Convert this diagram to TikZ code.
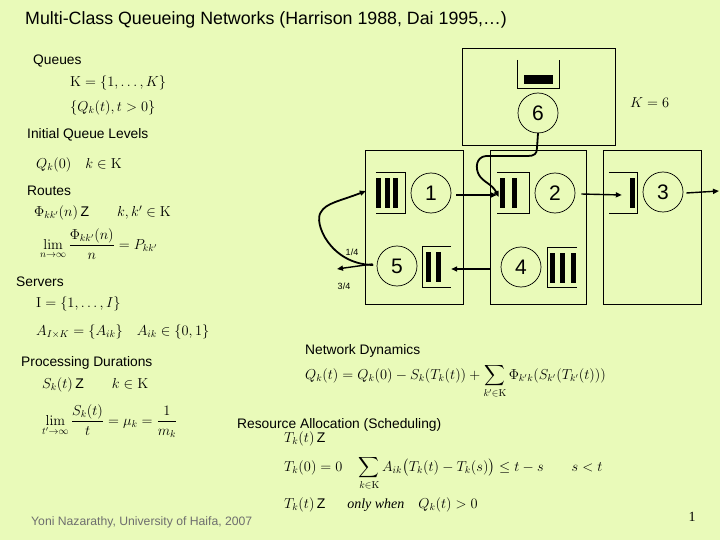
\documentclass[tikz,border=0pt]{standalone}
\usepackage{amsmath}
\usepackage[no-math]{fontspec}
\setmainfont{Liberation Sans}
\newfontfamily\serifont{Liberation Serif}
\usetikzlibrary{arrows.meta}
\definecolor{bgc}{RGB}{233,250,185}
\definecolor{footc}{RGB}{110,110,110}
\begin{document}
\begin{tikzpicture}[x=1pt,y=-1pt,
  lbl/.style={anchor=west,inner sep=0pt,font=\fontsize{13.8}{16}\selectfont},
  eq/.style={anchor=west,inner sep=0pt,font=\fontsize{14}{17}\selectfont},
  srv/.style={circle,draw,line width=0.7pt,minimum size=40pt,inner sep=0pt,font=\fontsize{21}{24}\selectfont},
  stn/.style={draw,line width=0.8pt,inner sep=0pt},
  buf/.style={inner sep=0pt,minimum height=40pt},
  bufline/.style={line width=0.8pt},
  flow/.style={-{Triangle[length=6pt,width=5pt]},line width=1.4pt},
  cflow/.style={-{Triangle[length=6pt,width=5pt]},line width=1.8pt,line cap=round,line join=round},
  frac/.style={anchor=center,inner sep=0pt,font=\fontsize{9}{10}\selectfont}]
\fill[bgc] (0,0) rectangle (720,540);
\useasboundingbox (0,0) rectangle (720,540);

% title
\node[anchor=west,inner sep=0pt,font=\fontsize{17.8}{20}\selectfont] (title) at (25,20) {Multi-Class Queueing Networks (Harrison 1988, Dai 1995,\dots)};

% left column
\node[lbl] (tq) at (33,61) {Queues};
\node[eq] (e1) at (70,83) {$\mathrm{K}=\{1,\ldots,K\}$};
\node[eq] (e2) at (70,108) {$\{Q_k(t),t>0\}$};
\node[lbl] (tiq) at (27,135) {Initial Queue Levels};
\node[eq] (e3) at (36,165) {$Q_k(0)\quad k\in\mathrm{K}$};
\node[lbl] (tr) at (27,191) {Routes};
\node[eq] (e4) at (34,213) {$\Phi_{kk'}(n)\,\mbox{Z}\qquad k,k'\in\mathrm{K}$};
\node[eq] (e5) at (40,244) {$\displaystyle\lim_{n\to\infty}\frac{\Phi_{kk'}(n)}{n}=P_{kk'}$};
\node[lbl] (ts) at (16,282) {Servers};
\node[eq] (e6) at (36,304) {$\mathrm{I}=\{1,\ldots,I\}$};
\node[eq] (e7) at (36,332) {$A_{I\times K}=\{A_{ik}\}\quad A_{ik}\in\{0,1\}$};
\node[lbl] (tpd) at (21,363) {Processing Durations};
\node[eq] (e8) at (42,385) {$S_k(t)\,\mbox{Z}\qquad k\in\mathrm{K}$};
\node[eq] (e9) at (42,421) {$\displaystyle\lim_{t'\to\infty}\frac{S_k(t)}{t}=\mu_k=\frac{1}{m_k}$};

% right / bottom texts
\node[lbl] (tnd) at (305,351) {Network Dynamics};
\node[eq,font=\fontsize{14.2}{17}\selectfont] (e10) at (305,381) {$\displaystyle Q_k(t)=Q_k(0)-S_k(T_k(t))+\sum_{k'\in\mathrm{K}}\Phi_{k'k}(S_{k'}(T_{k'}(t)))$};
\node[lbl] (tra) at (237,425) {Resource Allocation (Scheduling)};
\node[eq] (e11) at (284,439) {$T_k(t)\,\mbox{Z}$};
\node[eq] (e12) at (284,473) {$\displaystyle T_k(0)=0\quad\sum_{k\in\mathrm{K}}A_{ik}\bigl(T_k(t)-T_k(s)\bigr)\le t-s\qquad s<t$};
\node[eq] (e13) at (284,505) {$T_k(t)\,\mbox{Z}\quad\ \ $\textit{\serifont only when}$\quad Q_k(t)>0$};
\node[eq] (k6) at (630,103) {$K=6$};
\node[anchor=west,inner sep=0pt,font=\fontsize{12.2}{15}\selectfont,text=footc] (foot) at (31,522) {Yoni Nazarathy, University of Haifa, 2007};
\node[anchor=center,inner sep=0pt,font=\serifont\fontsize{14}{16}\selectfont] (pg) at (692,517) {1};

% stations
\node[stn,minimum width=153pt,minimum height=97pt] (st6) at (538.5,96.5) {};
\node[stn,minimum width=98pt,minimum height=154pt] (stA) at (414,227) {};
\node[stn,minimum width=96pt,minimum height=154pt] (stB) at (538,227) {};
\node[stn,minimum width=98pt,minimum height=154pt] (stC) at (652,227) {};

% servers
\node[srv] (c6) at (538,113) {6};
\node[srv] (c1) at (431,193) {1};
\node[srv] (c2) at (555,193) {2};
\node[srv] (c3) at (663,192) {3};
\node[srv] (c4) at (521,267) {4};
\node[srv] (c5) at (397,266) {5};

% buffers
\node[inner sep=0pt,minimum width=41pt,minimum height=28pt] (q6) at (538.5,74) {};
\draw[bufline] (q6.north west) -- (q6.south west) -- (q6.south east) -- (q6.north east);
\fill (524,75) rectangle (553,84);

\node[buf,minimum width=29pt] (q1) at (390.5,193) {};
\draw[bufline] (q1.north west) -- (q1.north east) -- (q1.south east) -- (q1.south west);
\foreach \x in {376,384.5,393} \fill (\x,178) rectangle +(5,30);

\node[buf,minimum width=32pt] (q2) at (513,193) {};
\draw[bufline] (q2.north west) -- (q2.north east) -- (q2.south east) -- (q2.south west);
\foreach \x in {500,512} \fill (\x,178) rectangle +(5,30);

\node[buf,minimum width=28pt] (q3) at (623,193) {};
\draw[bufline] (q3.north west) -- (q3.north east) -- (q3.south east) -- (q3.south west);
\fill (630,178) rectangle +(5,30);

\node[buf,minimum width=29pt] (q4) at (562.5,267.5) {};
\draw[bufline] (q4.north east) -- (q4.north west) -- (q4.south west) -- (q4.south east);
\foreach \x in {550,560,571} \fill (\x,253) rectangle +(5,30);

\node[buf,minimum width=28pt] (q5) at (437,267) {};
\draw[bufline] (q5.north east) -- (q5.north west) -- (q5.south west) -- (q5.south east);
\foreach \x in {426,435.5} \fill (\x,252) rectangle +(5,30);

% connectors
\coordinate (out3) at (719,191);
\coordinate (out5) at (337,269);
\draw[flow] ([xshift=5pt,yshift=-2pt]c1.east) -- ([yshift=-2pt]q2.west);
\draw[flow] ([xshift=6pt,yshift=-1pt]c2.east) -- ([xshift=13pt,yshift=-2pt]q3.west);
\draw[flow] ([xshift=3pt,yshift=-1pt]c3.east) -- (out3);
\draw[flow] ([xshift=-10pt,yshift=-2pt]c4.west) -- ([yshift=-2pt]q5.east);
\draw[flow] ([xshift=-4pt,yshift=2pt]c5.west) -- (out5);
\draw[cflow] ([xshift=-4pt,yshift=1pt]c5.west) .. controls (330,264) and (313,222) .. (321,212)
   .. controls (326,203) and (340,201) .. ([xshift=-10pt,yshift=2pt]q1.west);
\draw[cflow] (c6.south) -- (537,148) .. controls (537,154) and (534,156) .. (528,156) -- (486,156)
   .. controls (476,157) and (475,168) .. (479,175) .. controls (483,182) and (492,184) .. ([shift={(2pt,-4pt)}]q2.west);

% branch fractions
\node[frac] (f14) at (352,252) {1/4};
\node[frac] (f34) at (344,286) {3/4};
\end{tikzpicture}
\end{document}
